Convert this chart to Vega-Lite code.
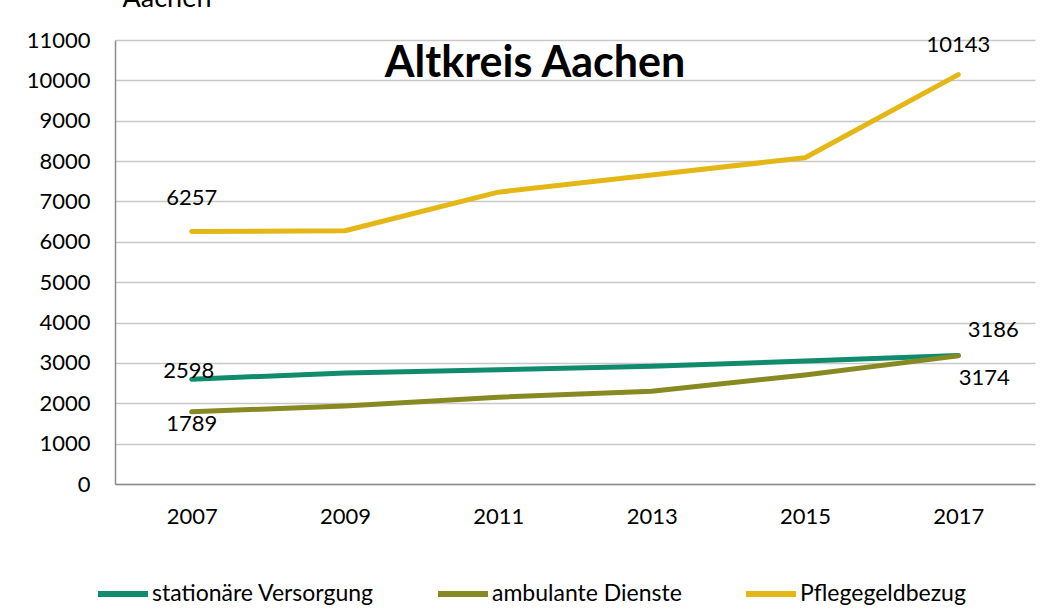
{
  "$schema": "https://vega.github.io/schema/vega-lite/v6.json",
  "autosize": {"type": "none"},
  "width": 920,
  "height": 444,
  "padding": {"left": 115, "top": 40, "right": 20, "bottom": 127},
  "background": "white",
  "title": {
    "text": "Altkreis Aachen",
    "orient": "top",
    "anchor": "middle",
    "frame": "group",
    "baseline": "alphabetic",
    "offset": 0,
    "dy": 136,
    "dx": -40,
    "font": "Lato",
    "fontSize": 43,
    "fontWeight": "bold",
    "color": "#000000"
  },
  "config": {
    "font": "Lato",
    "view": {"stroke": null}
  },
  "data": {
    "values": [
      {"year": "2007", "series": "stationäre Versorgung", "value": 2598},
      {"year": "2009", "series": "stationäre Versorgung", "value": 2750},
      {"year": "2011", "series": "stationäre Versorgung", "value": 2830},
      {"year": "2013", "series": "stationäre Versorgung", "value": 2920},
      {"year": "2015", "series": "stationäre Versorgung", "value": 3045},
      {"year": "2017", "series": "stationäre Versorgung", "value": 3186},
      {"year": "2007", "series": "ambulante Dienste", "value": 1789},
      {"year": "2009", "series": "ambulante Dienste", "value": 1935},
      {"year": "2011", "series": "ambulante Dienste", "value": 2150},
      {"year": "2013", "series": "ambulante Dienste", "value": 2300},
      {"year": "2015", "series": "ambulante Dienste", "value": 2700},
      {"year": "2017", "series": "ambulante Dienste", "value": 3174},
      {"year": "2007", "series": "Pflegegeldbezug", "value": 6257},
      {"year": "2009", "series": "Pflegegeldbezug", "value": 6274},
      {"year": "2011", "series": "Pflegegeldbezug", "value": 7230},
      {"year": "2013", "series": "Pflegegeldbezug", "value": 7655},
      {"year": "2015", "series": "Pflegegeldbezug", "value": 8083},
      {"year": "2017", "series": "Pflegegeldbezug", "value": 10143}
    ]
  },
  "encoding": {
    "x": {
      "field": "year",
      "type": "ordinal",
      "scale": {"type": "point", "padding": 0.5},
      "axis": {
        "title": null,
        "labelAngle": 0,
        "labelFontSize": 22,
        "labelColor": "#000000",
        "labelPadding": 22,
        "ticks": false,
        "domainColor": "#8c8c8c",
        "domainWidth": 1.5,
        "grid": false
      }
    },
    "y": {
      "field": "value",
      "type": "quantitative",
      "scale": {"domain": [0, 11000], "nice": false},
      "axis": {
        "title": "Aachen",
        "titleAngle": 0,
        "titleAlign": "left",
        "titleBaseline": "alphabetic",
        "titleX": 7,
        "titleY": -34,
        "titleFontSize": 27,
        "titleFontWeight": "normal",
        "titleColor": "#000000",
        "values": [0, 1000, 2000, 3000, 4000, 5000, 6000, 7000, 8000, 9000, 10000, 11000],
        "format": "d",
        "labelFontSize": 22,
        "labelColor": "#000000",
        "labelPadding": 25,
        "ticks": false,
        "domainColor": "#8c8c8c",
        "domainWidth": 1.5,
        "grid": true,
        "gridColor": "#c8c8c8",
        "gridWidth": 1.5
      }
    }
  },
  "layer": [
    {
      "mark": {"type": "line", "strokeWidth": 5, "strokeCap": "round", "strokeJoin": "round"},
      "encoding": {
        "color": {
          "field": "series",
          "type": "nominal",
          "sort": ["stationäre Versorgung", "ambulante Dienste", "Pflegegeldbezug"],
          "scale": {
            "domain": ["stationäre Versorgung", "ambulante Dienste", "Pflegegeldbezug"],
            "range": ["#108c6c", "#878a22", "#e4b716"]
          },
          "legend": {
            "title": null,
            "orient": "none",
            "direction": "horizontal",
            "legendX": -20,
            "legendY": 526,
            "symbolType": "stroke",
            "symbolSize": 2500,
            "symbolStrokeWidth": 6,
            "labelFontSize": 23,
            "labelLimit": 0,
            "labelColor": "#000000",
            "labelOffset": 1,
            "columnPadding": 52
          }
        }
      }
    },
    {
      "transform": [{"filter": "datum.series == 'Pflegegeldbezug' && datum.year == '2007'"}],
      "mark": {"type": "text", "fontSize": 22, "dy": -33, "color": "#000000"},
      "encoding": {"text": {"field": "value", "type": "quantitative", "format": "d"}}
    },
    {
      "transform": [{"filter": "datum.series == 'Pflegegeldbezug' && datum.year == '2017'"}],
      "mark": {"type": "text", "fontSize": 22, "dy": -30, "color": "#000000"},
      "encoding": {"text": {"field": "value", "type": "quantitative", "format": "d"}}
    },
    {
      "transform": [{"filter": "datum.series == 'stationäre Versorgung' && datum.year == '2017'"}],
      "mark": {"type": "text", "fontSize": 22, "dy": -25, "dx": 35, "color": "#000000"},
      "encoding": {"text": {"field": "value", "type": "quantitative", "format": "d"}}
    },
    {
      "transform": [{"filter": "datum.series == 'ambulante Dienste' && datum.year == '2017'"}],
      "mark": {"type": "text", "fontSize": 22, "dy": 22, "dx": 26, "color": "#000000"},
      "encoding": {"text": {"field": "value", "type": "quantitative", "format": "d"}}
    },
    {
      "transform": [{"filter": "datum.series == 'stationäre Versorgung' && datum.year == '2007'"}],
      "mark": {"type": "text", "fontSize": 22, "dy": -8, "dx": -3, "color": "#000000"},
      "encoding": {"text": {"field": "value", "type": "quantitative", "format": "d"}}
    },
    {
      "transform": [{"filter": "datum.series == 'ambulante Dienste' && datum.year == '2007'"}],
      "mark": {"type": "text", "fontSize": 22, "dy": 12, "color": "#000000"},
      "encoding": {"text": {"field": "value", "type": "quantitative", "format": "d"}}
    }
  ]
}
